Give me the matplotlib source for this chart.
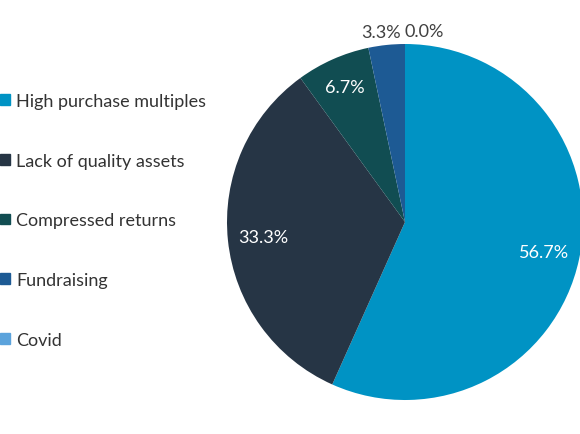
import matplotlib.pyplot as plt
import numpy as np
from matplotlib.patches import Patch

plt.rcParams['font.family'] = ['Lato', 'DejaVu Sans']

categories = ['High purchase multiples', 'Lack of quality assets', 'Compressed returns',
              'Fundraising', 'Covid']
values = [56.7, 33.3, 6.7, 3.3, 0.0]
colors = ['#0093c4', '#263545', '#114d52', '#1d5a94', '#5ba3dc']

fig = plt.figure(figsize=(5.8, 4.35), dpi=100)
ax = fig.add_axes([227 / 580, 34 / 435, 356 / 580, 356 / 435])
wedges, texts, autotexts = ax.pie(values, colors=colors, startangle=90, counterclock=False,
                                  autopct='%.1f%%', pctdistance=0.8, radius=1,
                                  textprops=dict(color='white', fontsize=13))
for w in wedges:
    w.set_clip_on(False)
ax.set_xlim(-1, 1)
ax.set_ylim(-1, 1)

# small slices: labels outside, above the pie
for i, dx in [(3, -0.02), (4, 0.11)]:
    w = wedges[i]
    ang = np.deg2rad((w.theta1 + w.theta2) / 2)
    autotexts[i].set_position((1.1 * np.cos(ang) + dx, 1.1 * np.sin(ang) - 0.025))
    autotexts[i].set_color('#404040')
autotexts[2].set_position((-0.34, 0.76))

handles = [Patch(color=c) for c in colors]
fig.legend(handles, categories, loc='upper left', bbox_to_anchor=(0.0, 1 - 94 / 435),
           frameon=False, fontsize=13, handlelength=0.55, handleheight=0.55,
           handletextpad=0.35, labelspacing=2.42, labelcolor='#333333',
           borderpad=0, borderaxespad=0)

fig.savefig('out.png', dpi=100)
